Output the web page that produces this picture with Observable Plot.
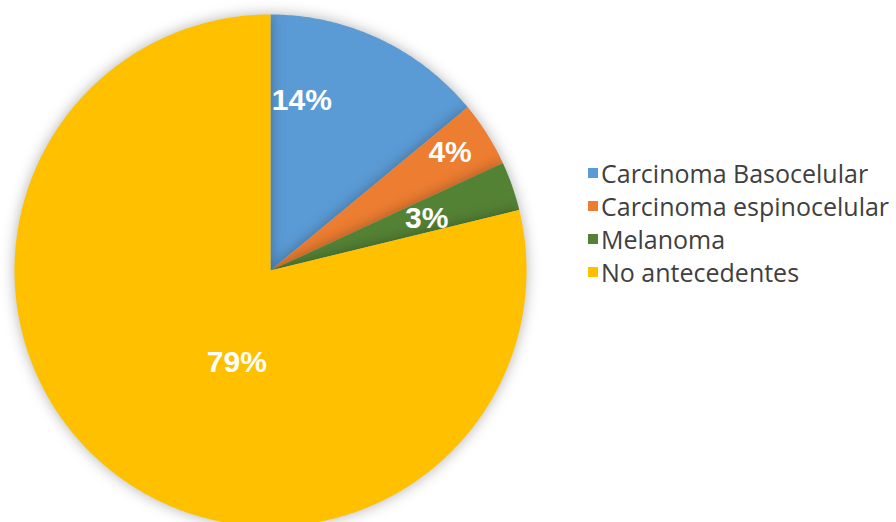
<!DOCTYPE html>
<html>
<head>
<meta charset="utf-8">
<script src="https://cdn.jsdelivr.net/npm/d3@7"></script>
<script src="https://cdn.jsdelivr.net/npm/@observablehq/plot@0.6"></script>
<style>
  html, body { margin: 0; padding: 0; background: #fff; }
  #wrap { position: relative; width: 896px; height: 522px; overflow: hidden; }
  #legend { position: absolute; left: 588px; top: 156px; font-family: "Open Sans", sans-serif; font-size: 25px; color: #404040; }
  .row { display: flex; align-items: center; height: 33px; white-space: nowrap; }
  .sw { width: 10px; height: 10px; margin-right: 3px; flex: none; }
</style>
</head>
<body>
<div id="wrap"></div>
<script>
// ---- data ----
const categories = ["Carcinoma Basocelular", "Carcinoma espinocelular", "Melanoma", "No antecedentes"];
const values = [14, 4.1, 3.1, 78.8];
const labels = ["14%", "4%", "3%", "79%"];
const colors = ["#5B9BD5", "#ED7D31", "#548235", "#FFC000"];

// ---- style: label placement (fraction of radius + pixel nudges) ----
const labelRadius = 0.7;
const labelNudge = [[-45, -8], [28, -23], [-13, 7], [77, -49]];

const arcs = d3.pie().sort(null).value(d => d)(values);

const marks = [];
arcs.forEach((a, i) => {
  const pts = [{x: 0, y: 0}];
  const n = Math.max(2, Math.ceil((a.endAngle - a.startAngle) / 0.01));
  for (let k = 0; k <= n; k++) {
    const t = a.startAngle + (a.endAngle - a.startAngle) * k / n;
    pts.push({x: Math.sin(t), y: Math.cos(t)});
  }
  marks.push(Plot.line(pts, {x: "x", y: "y", fill: colors[i], stroke: "none", curve: "linear-closed"}));
});
arcs.forEach((a, i) => {
  const mid = (a.startAngle + a.endAngle) / 2;
  marks.push(Plot.text([{x: labelRadius * Math.sin(mid), y: labelRadius * Math.cos(mid), t: labels[i]}], {
    x: "x", y: "y", text: "t", dx: labelNudge[i][0], dy: labelNudge[i][1],
    fill: "white", fontSize: 30, fontWeight: "bold", fontFamily: "Liberation Sans, Arial, sans-serif"
  }));
});

const chart = Plot.plot({
  width: 896, height: 522,
  margin: 0,
  x: {domain: [-1, 1], range: [14, 526], axis: null},
  y: {domain: [-1, 1], range: [526, 14], axis: null},
  marks
});
d3.select(chart).selectAll('g[aria-label="line"]').style("filter", "drop-shadow(0px 0px 7px rgba(0,0,0,0.30))");

const wrap = document.getElementById("wrap");
wrap.appendChild(chart);
const legend = document.createElement("div");
legend.id = "legend";
categories.forEach((c, i) => {
  const row = document.createElement("div");
  row.className = "row";
  const sw = document.createElement("div");
  sw.className = "sw";
  sw.style.background = colors[i];
  const tx = document.createElement("span");
  tx.textContent = c;
  row.appendChild(sw); row.appendChild(tx);
  legend.appendChild(row);
});
wrap.appendChild(legend);
</script>
</body>
</html>
